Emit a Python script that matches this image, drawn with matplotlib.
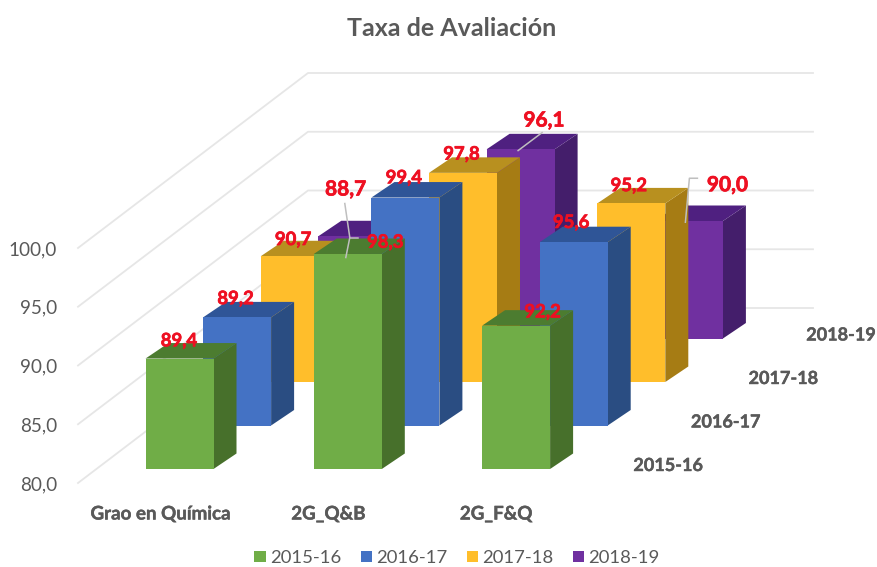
import matplotlib
matplotlib.use('Agg')
import matplotlib.pyplot as plt
import matplotlib.patheffects as pe
from matplotlib.patches import Polygon, Patch

plt.rcParams['font.family'] = ['Lato', 'DejaVu Sans']

categories = ['Grao en Química', '2G_Q&B', '2G_F&Q']
series = ['2015-16', '2016-17', '2017-18', '2018-19']
v2015 = [89.4, 98.3, 92.2]
v2016 = [89.2, 99.4, 95.6]
v2017 = [90.7, 97.8, 95.2]
v2018 = [88.7, 96.1, 90.0]
values = [v2015, v2016, v2017, v2018]
ticks = [80, 85, 90, 95, 100]

# front, top, side
colors = [('#70AD47', '#4C7C30', '#47702B'),
          ('#4472C4', '#2F5597', '#2A4D82'),
          ('#FFBE2B', '#B8901F', '#A67C14'),
          ('#7030A0', '#4F2080', '#441E6B')]

# oblique projection, everything in picture pixels
unit = 11.75
cat_step = 168.3
ser_dx, ser_dy = 57.6, -43.5
bar_w = 68
bar_dx, bar_dy = 23, -15.5
x0, y0 = 145.5, 469


def px(c, s, v):
    return x0 + c * cat_step + s * ser_dx, y0 + s * ser_dy - (v - 80) * unit


def comma(v):
    return ('%.1f' % v).replace('.', ',')


fig = plt.figure(figsize=(8.77, 5.67), dpi=100)
ax = fig.add_axes([0, 0, 1, 1])
ax.set_xlim(0, 877)
ax.set_ylim(567, 0)
ax.axis('off')

# walls
for t in ticks:
    h = (t - 80) * unit
    ax.plot([78, 308, 813], [483 - h, 308 - h, 308 - h], color='#E6E6E6', lw=1.3, zorder=1)
    ax.text(57, 484.5 - h, comma(t), ha='right', va='center', fontsize=13.6, color='#595959')

# bars, back row first
z = 2
anchors = {}
for s in range(3, -1, -1):
    for c in range(3):
        x, yb = px(c, s, 80)
        _, yt = px(c, s, values[s][c])
        front, top, side = colors[s]
        ax.add_patch(Polygon([(x + bar_w, yb), (x + bar_w + bar_dx, yb + bar_dy),
                              (x + bar_w + bar_dx, yt + bar_dy), (x + bar_w, yt)],
                             fc=side, ec='none', zorder=z))
        ax.add_patch(Polygon([(x, yt), (x + bar_dx, yt + bar_dy),
                              (x + bar_w + bar_dx, yt + bar_dy), (x + bar_w, yt)],
                             fc=top, ec='none', zorder=z))
        ax.add_patch(Polygon([(x, yb), (x + bar_w, yb), (x + bar_w, yt), (x, yt)],
                             fc=front, ec='none', zorder=z))
        z += 1
        anchors[(c, s)] = (x + bar_w / 2 + bar_dx / 2, yt + bar_dy / 2)

# label offsets from the top of each bar (cat, series)
offsets = {(0, 0): (-12, -10), (0, 1): (-13, -11), (0, 2): (-13, -9), (0, 3): (-18, -39),
           (1, 0): (26, -4), (1, 1): (-13, -12), (1, 2): (-13, -11), (1, 3): (12, -21),
           (2, 0): (15, -6), (2, 1): (-14, -12), (2, 2): (-14, -10), (2, 3): (27, -28)}
big = [(0, 3), (1, 3), (2, 3)]

# leader lines, also relative to the bar top
leaders = {(0, 3): [(-19, -25), (-14, 9), (-18, 29)],
           (1, 3): [(10, -9), (-14, 9)],
           (2, 3): [(-3, -35), (-11, -35), (-15, 9)]}
for k, pts in leaders.items():
    ax_, ay_ = anchors[k]
    ax.plot([ax_ + p[0] for p in pts], [ay_ + p[1] for p in pts], color='#BFBFBF', lw=1.1, zorder=50)
ax_, ay_ = anchors[(0, 3)]
ax.plot([ax_ - 14, ax_ - 6], [ay_ + 9, ay_ + 9], color='#BFBFBF', lw=1.1, zorder=50)

for (c, s), (dx, dy) in offsets.items():
    ax_, ay_ = anchors[(c, s)]
    t = ax.text(ax_ + dx, ay_ + dy, comma(values[s][c]), ha='center', va='center',
                color='#EE1022', fontweight='bold', fontsize=15 if (c, s) in big else 13.3, zorder=60)
    t.set_path_effects([pe.withStroke(linewidth=0.5, foreground='#EE1022')])

# axis labels
for c, name in enumerate(categories):
    x, _ = px(c, 0, 80)
    t = ax.text(x + 15 - c * 0.5, 514, name, ha='center', va='center', fontweight='bold',
                fontsize=13.5, color='#595959')
    t.set_path_effects([pe.withStroke(linewidth=0.3, foreground='#595959')])
for s, name in enumerate(series):
    x, y = px(2, s, 80)
    t = ax.text(x + 186, y - 3.5, name, ha='center', va='center', fontweight='bold',
                fontsize=13, color='#595959')
    t.set_path_effects([pe.withStroke(linewidth=0.3, foreground='#595959')])

ax.text(452, 28, 'Taxa de Avaliación', ha='center', va='center', fontweight='bold',
        fontsize=18, color='#595959')

handles = [Patch(fc=colors[i][0], ec='none', label=series[i]) for i in range(4)]
ax.legend(handles=handles, ncol=4, frameon=False, loc='center', bbox_to_anchor=(457 / 877, 1 - 558 / 567),
          fontsize=13.3, handlelength=0.62, handleheight=0.62, handletextpad=0.22, columnspacing=1.05,
          labelcolor='#595959')

plt.savefig('out.png', dpi=100)
